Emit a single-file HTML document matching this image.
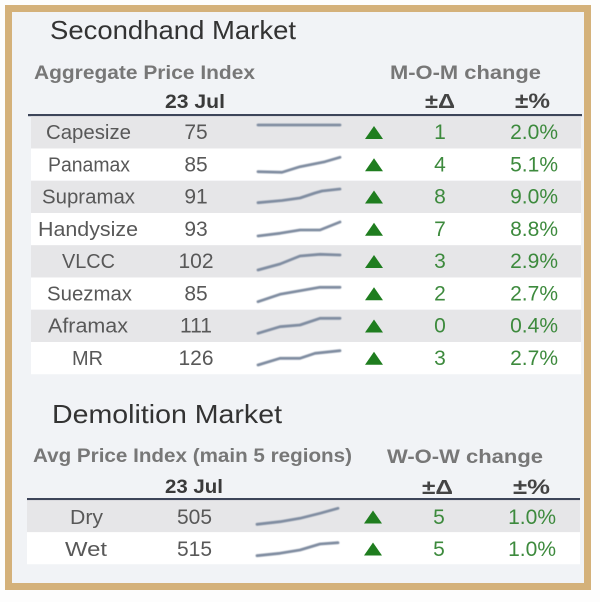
<!DOCTYPE html>
<html><head><meta charset="utf-8"><style>
html,body{margin:0;padding:0;background:#fff;}
svg{display:block;}
text{font-family:"Liberation Sans",sans-serif;}
</style></head><body>
<svg width="600" height="602" viewBox="0 0 600 602" xmlns="http://www.w3.org/2000/svg">
<defs><filter id="b" x="-5%" y="-50%" width="110%" height="200%"><feGaussianBlur stdDeviation="0.6"/></filter></defs>
<rect x="0" y="0" width="600" height="602" fill="#fdfdfd"/>
<rect x="8.5" y="8.5" width="579" height="578" fill="#f1f3f6" stroke="#d4b17a" stroke-width="7"/>

<!-- Secondhand -->
<text x="50" y="39" font-size="26" fill="#333" textLength="246" lengthAdjust="spacingAndGlyphs">Secondhand Market</text>
<text x="34" y="79" font-size="19" font-weight="bold" fill="#777" textLength="221" lengthAdjust="spacingAndGlyphs">Aggregate Price Index</text>
<text x="390" y="79" font-size="19" font-weight="bold" fill="#777" textLength="151" lengthAdjust="spacingAndGlyphs">M-O-M change</text>
<text x="165" y="108" font-size="19" font-weight="bold" fill="#3a3a3a" textLength="60" lengthAdjust="spacingAndGlyphs">23 Jul</text>
<text x="425" y="108" font-size="20" font-weight="bold" fill="#444" textLength="30" lengthAdjust="spacingAndGlyphs">±Δ</text>
<text x="515" y="108" font-size="21" font-weight="bold" fill="#444" textLength="35" lengthAdjust="spacingAndGlyphs">±%</text>
<rect x="28" y="114" width="554" height="2.2" fill="#3d4559"/>

<g>
<rect x="31" y="116.2" width="550" height="32.25" fill="#e6e6e8"/>
<rect x="31" y="148.5" width="550" height="32.25" fill="#ffffff"/>
<rect x="31" y="180.7" width="550" height="32.25" fill="#e6e6e8"/>
<rect x="31" y="213" width="550" height="32.25" fill="#ffffff"/>
<rect x="31" y="245.2" width="550" height="32.25" fill="#e6e6e8"/>
<rect x="31" y="277.5" width="550" height="32.25" fill="#ffffff"/>
<rect x="31" y="309.7" width="550" height="32.25" fill="#e6e6e8"/>
<rect x="31" y="342" width="550" height="32.25" fill="#ffffff"/>
</g>

<g font-size="20" fill="#585858" text-anchor="middle">
<text x="88.5" y="139" textLength="85" lengthAdjust="spacingAndGlyphs">Capesize</text>
<text x="89" y="171.3" textLength="82" lengthAdjust="spacingAndGlyphs">Panamax</text>
<text x="88.5" y="203.5" textLength="93" lengthAdjust="spacingAndGlyphs">Supramax</text>
<text x="88" y="235.8" textLength="100" lengthAdjust="spacingAndGlyphs">Handysize</text>
<text x="88.5" y="268" textLength="53" lengthAdjust="spacingAndGlyphs">VLCC</text>
<text x="89.5" y="300.3" textLength="85" lengthAdjust="spacingAndGlyphs">Suezmax</text>
<text x="88" y="332.5" textLength="80" lengthAdjust="spacingAndGlyphs">Aframax</text>
<text x="87.5" y="364.8" textLength="31" lengthAdjust="spacingAndGlyphs">MR</text>
</g>
<g font-size="21" fill="#585858" text-anchor="middle">
<text x="196" y="139">75</text>
<text x="196" y="171.3">85</text>
<text x="196" y="203.5">91</text>
<text x="196" y="235.8">93</text>
<text x="196" y="268">102</text>
<text x="196" y="300.3">85</text>
<text x="196" y="332.5">111</text>
<text x="196" y="364.8">126</text>
</g>

<g fill="none" stroke="#7f8ca0" stroke-width="2.8" stroke-linecap="round" stroke-linejoin="round" filter="url(#b)">
<polyline points="258,125 340,125"/>
<polyline points="258,171.7 282,172.3 300,166.7 325,161.7 340,157.3"/>
<polyline points="258,202.7 282,200.5 300,198 315,193 322,191 340,189"/>
<polyline points="258,236 280,233.3 300,230 320,230 340,222"/>
<polyline points="258,270 280,264 300,256 320,254.3 340,255"/>
<polyline points="258,301.7 280,294.3 300,290.7 320,287.3 340,287.3"/>
<polyline points="258,333.3 280,326.7 300,325 320,318.3 340,318.3"/>
<polyline points="258,365 280,358.3 300,358.3 315,353.3 340,350.7"/>
</g>

<g fill="#1f7d1f">
<polygon points="365,139 383,139 374,126"/>
<polygon points="365,171.3 383,171.3 374,158.3"/>
<polygon points="365,203.5 383,203.5 374,190.5"/>
<polygon points="365,235.8 383,235.8 374,222.8"/>
<polygon points="365,268 383,268 374,255"/>
<polygon points="365,300.3 383,300.3 374,287.3"/>
<polygon points="365,332.5 383,332.5 374,319.5"/>
<polygon points="365,364.8 383,364.8 374,351.8"/>
</g>

<g font-size="21" fill="#3d8a3d" text-anchor="middle">
<text x="440" y="139">1</text>
<text x="440" y="171.3">4</text>
<text x="440" y="203.5">8</text>
<text x="440" y="235.8">7</text>
<text x="440" y="268">3</text>
<text x="440" y="300.3">2</text>
<text x="440" y="332.5">0</text>
<text x="440" y="364.8">3</text>
</g>
<g font-size="21" fill="#3d8a3d" text-anchor="end">
<text x="558" y="139">2.0%</text>
<text x="558" y="171.3">5.1%</text>
<text x="558" y="203.5">9.0%</text>
<text x="558" y="235.8">8.8%</text>
<text x="558" y="268">2.9%</text>
<text x="558" y="300.3">2.7%</text>
<text x="558" y="332.5">0.4%</text>
<text x="558" y="364.8">2.7%</text>
</g>

<!-- Demolition -->
<text x="52" y="423" font-size="26" fill="#333" textLength="230" lengthAdjust="spacingAndGlyphs">Demolition Market</text>
<text x="33" y="462" font-size="19" font-weight="bold" fill="#777" textLength="319" lengthAdjust="spacingAndGlyphs">Avg Price Index (main 5 regions)</text>
<text x="387" y="463" font-size="19" font-weight="bold" fill="#777" textLength="156" lengthAdjust="spacingAndGlyphs">W-O-W change</text>
<text x="165" y="493" font-size="19" font-weight="bold" fill="#3a3a3a" textLength="58" lengthAdjust="spacingAndGlyphs">23 Jul</text>
<text x="422" y="494" font-size="20" font-weight="bold" fill="#444" textLength="31" lengthAdjust="spacingAndGlyphs">±Δ</text>
<text x="513" y="494" font-size="21" font-weight="bold" fill="#444" textLength="37" lengthAdjust="spacingAndGlyphs">±%</text>
<rect x="27" y="498" width="553" height="2.2" fill="#3d4559"/>
<rect x="27" y="500.2" width="553" height="32" fill="#e6e6e8"/>
<rect x="27" y="532.2" width="553" height="32" fill="#ffffff"/>

<g font-size="20" fill="#585858" text-anchor="middle">
<text x="86.5" y="524" textLength="33" lengthAdjust="spacingAndGlyphs">Dry</text>
<text x="86" y="556" textLength="42" lengthAdjust="spacingAndGlyphs">Wet</text>
</g>
<g font-size="21" fill="#585858" text-anchor="middle">
<text x="194.5" y="524">505</text>
<text x="194.5" y="556">515</text>
</g>
<g fill="none" stroke="#7f8ca0" stroke-width="2.8" stroke-linecap="round" stroke-linejoin="round" filter="url(#b)">
<polyline points="257,524.3 280,521.7 300,518.3 320,513.3 338,508.3"/>
<polyline points="257,555.7 280,553.3 300,550 320,544 338,542.7"/>
</g>
<g fill="#1f7d1f">
<polygon points="364,523.5 382,523.5 373,510.5"/>
<polygon points="364,555.5 382,555.5 373,542.5"/>
</g>
<g font-size="21" fill="#3d8a3d">
<text x="439" y="524" text-anchor="middle">5</text>
<text x="439" y="556" text-anchor="middle">5</text>
<text x="556" y="524" text-anchor="end">1.0%</text>
<text x="556" y="556" text-anchor="end">1.0%</text>
</g>
</svg>
</body></html>
